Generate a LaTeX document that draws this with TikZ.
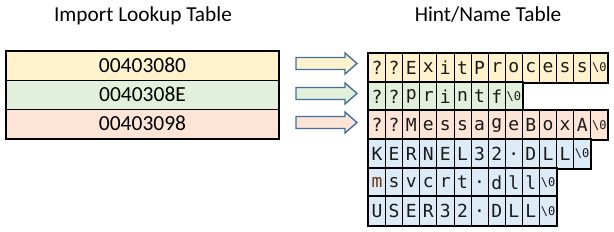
\documentclass[tikz,border=0pt]{standalone}
\usepackage{fontspec}
\setmainfont{Carlito}
\newfontfamily\monofont{DejaVu Sans Mono}
\definecolor{cyel}{HTML}{FFF2CC}
\definecolor{cgrn}{HTML}{E2EFDA}
\definecolor{cpch}{HTML}{FCE4D6}
\definecolor{cblu}{HTML}{DDEBF7}
\definecolor{aline}{HTML}{41719C}
\definecolor{ctxt}{HTML}{1A1A1A}
\definecolor{cbrn}{HTML}{6B3410}
\tikzset{
  hdr/.style={font=\fontsize{21.3}{24}\selectfont, anchor=base},
  ilt/.style={draw=black, line width=1pt, minimum width=272pt, minimum height=29pt, inner sep=0pt, font=\fontsize{21.5}{24}\selectfont},
  cellbox/.style={draw=black, line width=0.9pt, minimum width=17.1pt, minimum height=28.67pt, inner sep=0pt, anchor=north west, font=\monofont\fontsize{18}{20}\selectfont, text=ctxt},
  nulbox/.style={cellbox, font=\monofont\fontsize{12}{14}\selectfont},
  rowframe/.style={draw=black, line width=2pt},
  blockarrow/.style={draw=aline, line width=1.4pt, line join=miter}
}
\begin{document}
\begin{tikzpicture}[x=1pt,y=-1pt]
\useasboundingbox (0,0) rectangle (614,231);
% headers
\node[hdr] (h1) at (143,21) {Import Lookup Table};
\node[hdr] (h2) at (488,21) {Hint/Name Table};
% import lookup table
\node[ilt, fill=cyel] (i1) at (142.5,65.5) {00403080};
\node[ilt, fill=cgrn] (i2) at (142.5,94.5) {0040308E};
\node[ilt, fill=cpch] (i3) at (142.5,123.5) {00403098};
\draw[rowframe] (i1.north west) rectangle (i3.south east);
% arrows
\foreach \cy/\col [count=\k] in {63.5/cyel,93.5/cgrn,122.5/cpch}{
  \draw[blockarrow, fill=\col] (296,\cy-6) -- (345,\cy-6) -- (345,\cy-10.5) -- (357,\cy) -- (345,\cy+10.5) -- (345,\cy+6) -- (296,\cy+6) -- cycle;
}
% hint/name table rows
\newcommand{\hnrow}[4]{% #1 row index, #2 y, #3 fill, #4 list
  \foreach \ch [count=\i from 0] in {#4}{
    \node[cellbox, fill=#3] (r#1c\i) at (368+17.1*\i,#2) {\ch};
    \xdef\lastidx{\i}
  }
  \pgfmathtruncatemacro{\nidx}{\lastidx+1}
  \node[nulbox, fill=#3] (r#1c\nidx) at (368+17.1*\nidx,#2) {\textbackslash0};
  \draw[rowframe] (r#1c0.north west) rectangle (r#1c\nidx.south east);
}
\hnrow{1}{53}{cyel}{?,?,E,x,i,t,P,r,o,c,e,s,s}
\hnrow{2}{81.67}{cgrn}{?,?,p,r,i,n,t,f}
\hnrow{3}{110.33}{cpch}{?,?,M,e,s,s,a,g,e,B,o,x,A}
\hnrow{4}{139}{cblu}{K,E,R,N,E,L,3,2,.,D,L,L}
\hnrow{5}{167.67}{cblu}{\textcolor{cbrn}{m},s,v,c,r,t,.,d,l,l}
\hnrow{6}{196.33}{cblu}{U,S,E,R,3,2,.,D,L,L}
\end{tikzpicture}
\end{document}
